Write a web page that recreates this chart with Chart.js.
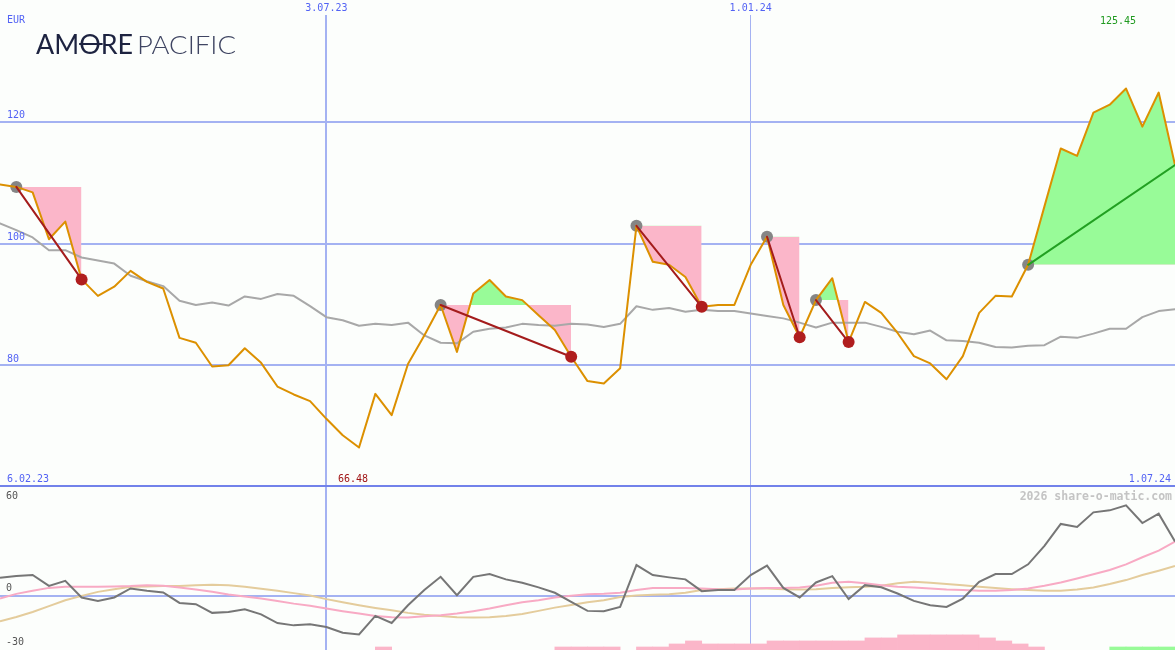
<!DOCTYPE html>
<html>
<head>
<meta charset="utf-8">
<script src="https://cdn.jsdelivr.net/npm/chart.js@4.4.1/dist/chart.umd.min.js"></script>
<style>
  html, body { margin: 0; padding: 0; background: #fcfefc; }
  #wrap { position: relative; width: 1175px; height: 650px; overflow: hidden; }
  canvas { position: absolute; left: 0; }
  #price-chart { top: 0; }
  #osc-chart { top: 487px; }
</style>
</head>
<body>
<div id="wrap">
  <canvas id="price-chart" width="1175" height="487"></canvas>
  <canvas id="osc-chart" width="1175" height="163"></canvas>
</div>
<script>
// weekly closes, index 0 = 13.02.23 ... index 72 = 1.07.24
const price = [
  109.7, 109.3, 108.4, 100.7, 103.6, 94.1, 91.4, 92.9, 95.5, 93.7,
  92.6, 84.5, 83.7, 79.8, 80.0, 82.8, 80.4, 76.5, 75.2, 74.1,
  71.2, 68.5, 66.48, 75.3, 71.8, 80.2, 84.9, 89.9, 82.2, 91.8,
  94.0, 91.3, 90.7, 88.2, 85.8, 81.4, 77.4, 77.0, 79.5, 102.9,
  97.0, 96.5, 94.5, 89.6, 89.9, 89.9, 96.5, 101.1, 89.9, 84.6,
  90.7, 94.3, 83.8, 90.4, 88.6, 85.3, 81.5, 80.3, 77.7, 81.5,
  88.6, 91.4, 91.3, 96.5, 106.1, 115.6, 114.4, 121.5, 122.8, 125.45,
  119.2, 124.8, 112.9
];
const movingAvg = [
  103.3, 102.2, 101.0, 98.9, 98.9, 97.7, 97.2, 96.7, 94.7, 93.8,
  93.0, 90.6, 89.9, 90.3, 89.8, 91.3, 90.9, 91.7, 91.4, 89.7,
  87.9, 87.4, 86.5, 86.8, 86.6, 87.0, 84.9, 83.7, 83.6, 85.5,
  86.0, 86.2, 86.8, 86.6, 86.5, 86.8, 86.7, 86.3, 86.8, 89.7,
  89.1, 89.4, 88.8, 89.1, 88.9, 88.9, 88.5, 88.1, 87.7, 87.0,
  86.2, 87.0, 87.0, 87.0, 86.3, 85.5, 85.1, 85.7, 84.1, 84.0,
  83.7, 83.0, 82.9, 83.2, 83.3, 84.7, 84.5, 85.2, 86.0, 86.0,
  87.9, 88.9, 89.2
];
const oscMain = [
  9.9, 10.8, 11.4, 5.4, 8.2, -1.0, -2.9, -1.0, 4.0, 2.7,
  1.8, -4.0, -4.7, -9.5, -9.0, -7.5, -10.3, -15.1, -16.4, -15.8,
  -17.3, -20.5, -21.4, -11.2, -15.1, -5.3, 3.1, 10.4, 0.3, 10.4,
  11.9, 9.0, 7.1, 4.6, 1.6, -3.4, -8.4, -8.6, -6.2, 16.9,
  11.4, 10.1, 9.0, 2.5, 3.1, 3.1, 11.4, 16.6, 4.3, -1.0,
  7.3, 10.8, -1.9, 5.8, 4.6, 1.2, -2.9, -5.3, -6.2, -1.6,
  7.7, 11.9, 11.9, 17.3, 27.5, 39.6, 37.9, 46.0, 47.1, 49.9,
  40.1, 45.3, 29.9
];
const oscSignal = [
  -1.6, 1.0, 2.7, 4.3, 4.9, 4.9, 4.9, 5.1, 5.3, 5.8,
  5.5, 4.5, 3.4, 2.1, 0.6, -0.5, -1.6, -2.9, -4.4, -5.6,
  -7.1, -8.6, -9.9, -11.2, -11.9, -12.1, -11.4, -10.8, -9.9, -8.6,
  -7.1, -5.3, -3.6, -2.5, -1.0, -0.1, 0.8, 1.0, 1.6, 3.1,
  4.2, 4.3, 4.3, 4.0, 3.6, 3.4, 4.0, 4.2, 4.3, 4.5,
  5.5, 7.1, 7.7, 6.8, 5.8, 4.9, 4.5, 4.0, 3.4, 3.1,
  2.7, 2.7, 3.1, 4.0, 5.5, 7.3, 9.5, 11.8, 14.2, 17.3,
  21.2, 24.9, 29.9
];
const oscSlow = [
  -14.2, -11.8, -9.0, -5.8, -2.5, -0.1, 2.1, 3.6, 4.9, 5.1,
  5.3, 5.3, 5.8, 6.0, 5.7, 4.9, 3.8, 2.7, 1.4, 0.1,
  -1.9, -3.6, -5.3, -6.8, -8.1, -9.5, -10.5, -11.2, -11.9, -12.1,
  -11.9, -11.2, -10.1, -8.4, -6.6, -5.1, -3.6, -2.5, -0.8, 0.1,
  0.5, 0.8, 1.6, 3.1, 3.6, 4.0, 4.0, 4.0, 3.6, 3.4,
  3.6, 4.2, 4.7, 4.9, 5.5, 6.8, 7.7, 7.1, 6.4, 5.7,
  4.9, 4.2, 3.6, 3.1, 2.7, 2.7, 3.4, 4.5, 6.4, 8.6,
  11.4, 13.8, 16.4
];
// bottom histogram, one bar per week interval (72)
const histLoss = [
  0, 0, 0, 0, 0, 0, 0, 0, 0, 0,
  0, 0, 0, 0, 0, 0, 0, 0, 0, 0,
  0, 0, 0, 1, 0, 0, 0, 0, 0, 0,
  0, 0, 0, 0, 1, 1, 1, 1, 0, 1,
  1, 2, 3, 2, 2, 2, 2, 3, 3, 3,
  3, 3, 3, 4, 4, 5, 5, 5, 5, 5,
  4, 3, 2, 1, 0, 0, 0, 0, 0, 0,
  0, 0
];
const histGain = [
  0, 0, 0, 0, 0, 0, 0, 0, 0, 0,
  0, 0, 0, 0, 0, 0, 0, 0, 0, 0,
  0, 0, 0, 0, 0, 0, 0, 0, 0, 0,
  0, 0, 0, 0, 0, 0, 0, 0, 0, 0,
  0, 0, 0, 0, 0, 0, 0, 0, 0, 0,
  0, 0, 0, 0, 0, 0, 0, 0, 0, 0,
  0, 0, 0, 0, 0, 0, 0, 0, 1, 1,
  1, 1
];
// trades: entry / exit week index
const entryIdx = [1, 27, 39, 47, 50, 63];
const exitIdx = [5, 35, 43, 49, 52, 72];
const tradeOpen = [false, false, false, false, false, true];

const dateTicks = [20, 46];
const dateTickLabels = ['3.07.23', '1.01.24'];
const priceTicks = [80, 100, 120];
const oscTicks = [0];
const startLabel = '6.02.23';
const endLabel = '1.07.24';
const minIdx = 22, maxIdx = 69;

const BG = '#fcfefc';
const GRID = '#a4b2f2';
const LABEL_BLUE = '#5262f4';
const PINK = '#fbb6c9';
const GREEN = '#98fb98';
const MONO = '"DejaVu Sans Mono", monospace';

const pts = (arr, start = 0) => arr.map((v, i) => ({ x: start + i, y: v }));

function makeXScale() {
    return {
        type: 'linear', min: 0, max: 72,
        offset: false,
        afterBuildTicks: s => { s.ticks = dateTicks.map(v => ({ value: v })); },
        grid: {
            offset: false,
            color: GRID,
            lineWidth: c => (c.tick && c.tick.value === dateTicks[0]) ? 2 : 1,
            drawTicks: false
        },
        border: { display: false },
        ticks: { display: false }
    };
}

// fill areas between price and entry level
const fillSets = entryIdx.map((e, k) => ({
    data: pts(price.slice(e, exitIdx[k] + 1), e),
    borderWidth: 0,
    borderColor: 'rgba(0,0,0,0)',
    pointRadius: 0,
    fill: { target: { value: price[e] }, above: GREEN, below: PINK },
    order: 10
}));

const tradeLines = entryIdx.map((e, k) => ({
    data: [{ x: e, y: price[e] }, { x: exitIdx[k], y: price[exitIdx[k]] }],
    borderColor: tradeOpen[k] ? '#22a022' : '#a41c1c',
    borderWidth: 2,
    pointRadius: 0,
    fill: false,
    order: 1
}));

const priceDecor = {
    id: 'priceDecor',
    afterDraw(chart) {
        const { ctx, chartArea } = chart;
        const x = chart.scales.x, y = chart.scales.y;
        ctx.save();
        ctx.strokeStyle = '#7282ea';
        ctx.lineWidth = 2;
        ctx.beginPath();
        ctx.moveTo(chartArea.left, chartArea.bottom - 1);
        ctx.lineTo(chartArea.right, chartArea.bottom - 1);
        ctx.stroke();

        ctx.font = '10px ' + MONO;
        ctx.textBaseline = 'middle';
        ctx.textAlign = 'left';
        ctx.fillStyle = LABEL_BLUE;
        ctx.fillText('EUR', 7, 20);
        priceTicks.forEach(v => ctx.fillText(String(v), 7, y.getPixelForValue(v) - 6));
        ctx.fillText(startLabel, 7, 479);
        ctx.textAlign = 'right';
        ctx.fillText(endLabel, 1171, 479);

        ctx.textAlign = 'center';
        dateTicks.forEach((v, i) => {
            const px = x.getPixelForValue(v);
            const w = ctx.measureText(dateTickLabels[i]).width;
            ctx.fillStyle = BG;
            ctx.fillRect(px - w / 2 - 2, 0, w + 4, 15);
            ctx.fillStyle = LABEL_BLUE;
            ctx.fillText(dateTickLabels[i], px, 8);
        });
        ctx.fillStyle = '#1f9a1f';
        ctx.fillText(price[maxIdx].toFixed(2), x.getPixelForValue(maxIdx) - 8, 21);
        ctx.fillStyle = '#a01414';
        ctx.fillText(price[minIdx].toFixed(2), x.getPixelForValue(minIdx) - 6, 479);

        // logo
        ctx.textAlign = 'left';
        ctx.textBaseline = 'alphabetic';
        const fit = (txt, left, right, font, color) => {
            ctx.font = font;
            const w = ctx.measureText(txt).width;
            const sx = (right - left) / w;
            ctx.save();
            ctx.translate(left, 54);
            ctx.scale(sx, 1);
            ctx.fillStyle = color;
            ctx.fillText(txt, 0, 0);
            ctx.restore();
            return sx;
        };
        const sx = fit('AMORE', 36, 133, '400 26px Lato', '#1d2340');
        fit('PACIFIC', 137, 236, '300 26px Lato', '#3f4562');
        ctx.font = '400 26px Lato';
        const o0 = 36 + ctx.measureText('AM').width * sx;
        const o1 = 36 + ctx.measureText('AMO').width * sx;
        ctx.strokeStyle = '#1d2340';
        ctx.lineWidth = 2;
        ctx.beginPath();
        ctx.moveTo(o0, 44);
        ctx.lineTo(o1 + 2, 44);
        ctx.stroke();
        ctx.restore();
    }
};

new Chart(document.getElementById('price-chart').getContext('2d'), {
    type: 'line',
    data: {
        datasets: [
            {
                data: exitIdx.filter((e, k) => !tradeOpen[k]).map(e => ({ x: e, y: price[e] })),
                showLine: false, pointRadius: 6, pointBorderWidth: 0,
                pointBackgroundColor: '#b01e1e', order: 0
            },
            ...tradeLines,
            { data: pts(price), borderColor: '#dc9000', borderWidth: 2, pointRadius: 0, order: 2 },
            {
                data: entryIdx.map(e => ({ x: e, y: price[e] })),
                showLine: false, pointRadius: 6, pointBorderWidth: 0,
                pointBackgroundColor: '#858585', order: 3
            },
            { data: pts(movingAvg), borderColor: '#a8a8a8', borderWidth: 2, pointRadius: 0, order: 4 },
            ...fillSets
        ]
    },
    options: {
        responsive: false,
        animation: false,
        devicePixelRatio: 1,
        layout: { padding: 0, autoPadding: false },
        plugins: { legend: { display: false }, tooltip: { enabled: false } },
        elements: { line: { tension: 0, borderCapStyle: 'round', borderJoinStyle: 'round' } },
        scales: {
            x: makeXScale(),
            y: {
                min: 60, max: 140,
                afterBuildTicks: s => { s.ticks = priceTicks.map(v => ({ value: v })); },
                grid: { color: GRID, lineWidth: 2, drawTicks: false },
                border: { display: false },
                ticks: { display: false }
            }
        }
    },
    plugins: [priceDecor]
});

const oscDecor = {
    id: 'oscDecor',
    afterDraw(chart) {
        const { ctx } = chart;
        const y = chart.scales.y;
        ctx.save();
        ctx.font = '10px ' + MONO;
        ctx.textBaseline = 'middle';
        ctx.textAlign = 'left';
        ctx.fillStyle = '#555555';
        ctx.fillText('60', 6, 9);
        oscTicks.forEach(v => ctx.fillText(String(v), 6, y.getPixelForValue(v) - 7));
        ctx.fillText('-30', 6, 155);
        ctx.textAlign = 'right';
        ctx.font = 'bold 11.5px ' + MONO;
        ctx.fillStyle = '#c4c4c4';
        ctx.fillText('2026 share-o-matic.com', 1172, 10);
        ctx.restore();
    }
};

const bars = (arr) => arr.map((v, i) => ({ x: i + 0.5, y: v > 0 ? v : null }));

new Chart(document.getElementById('osc-chart').getContext('2d'), {
    type: 'line',
    data: {
        datasets: [
            { data: pts(oscMain), borderColor: '#767676', borderWidth: 2, pointRadius: 0, order: 1 },
            { data: pts(oscSignal), borderColor: '#f8aac4', borderWidth: 2, pointRadius: 0, order: 2 },
            { data: pts(oscSlow), borderColor: '#e4cc9c', borderWidth: 2, pointRadius: 0, order: 3 },
            {
                type: 'bar', data: bars(histLoss), yAxisID: 'yb', backgroundColor: PINK,
                barPercentage: 1, categoryPercentage: 1, grouped: false, borderWidth: 0, order: 5
            },
            {
                type: 'bar', data: bars(histGain), yAxisID: 'yb', backgroundColor: GREEN,
                barPercentage: 1, categoryPercentage: 1, grouped: false, borderWidth: 0, order: 5
            }
        ]
    },
    options: {
        responsive: false,
        animation: false,
        devicePixelRatio: 1,
        layout: { padding: 0, autoPadding: false },
        plugins: { legend: { display: false }, tooltip: { enabled: false } },
        elements: { line: { tension: 0 } },
        scales: {
            x: makeXScale(),
            y: {
                min: -30, max: 60,
                afterBuildTicks: s => { s.ticks = oscTicks.map(v => ({ value: v })); },
                grid: { color: GRID, lineWidth: 2, drawTicks: false },
                border: { display: false },
                ticks: { display: false }
            },
            yb: { min: 0, max: 54, display: false }
        }
    },
    plugins: [oscDecor]
});
</script>
</body>
</html>
